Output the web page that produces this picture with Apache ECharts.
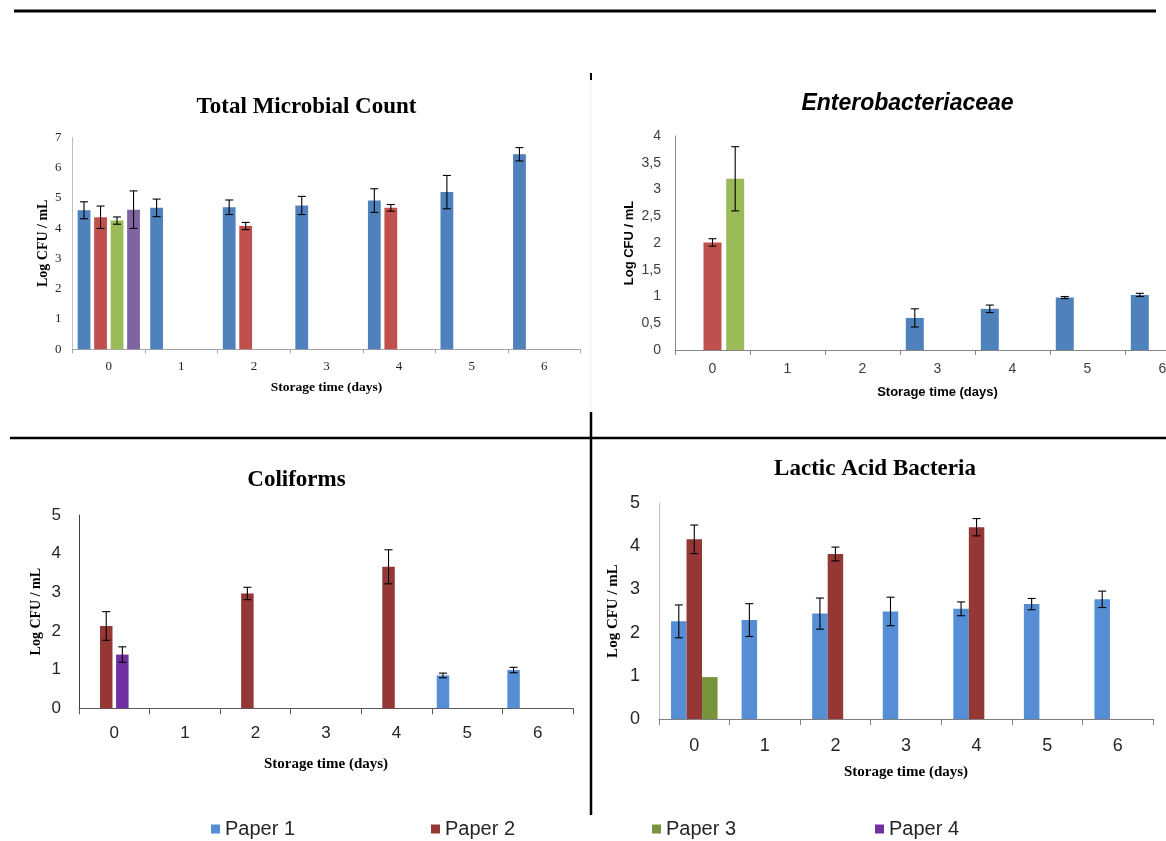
<!DOCTYPE html>
<html><head><meta charset="utf-8">
<script src="https://cdn.jsdelivr.net/npm/echarts@6/dist/echarts.min.js"></script>
<style>html,body{margin:0;padding:0;background:#fff}#c{width:1166px;height:841px}</style>
</head><body><div id="c"></div>
<script>
// ---------- DATA ----------
const days = ['0', '1', '2', '3', '4', '5', '6'];
const legendNames = ['Paper 1', 'Paper 2', 'Paper 3', 'Paper 4'];

// Total Microbial Count
const tmcPaper1 = [4.59, 4.67, 4.69, 4.75, 4.91, 5.19, 6.44];
const tmcPaper1Err = [0.28, 0.29, 0.24, 0.30, 0.39, 0.55, 0.22];
const tmcPaper2 = [4.36, null, 4.07, null, 4.67, null, null];
const tmcPaper2Err = [0.37, null, 0.12, null, 0.11, null, null];
const tmcPaper3 = [4.25, null, null, null, null, null, null];
const tmcPaper3Err = [0.12, null, null, null, null, null, null];
const tmcPaper4 = [4.61, null, null, null, null, null, null];
const tmcPaper4Err = [0.62, null, null, null, null, null, null];

// Enterobacteriaceae
const entPaper1 = [null, null, null, 0.60, 0.77, 0.98, 1.03];
const entPaper1Err = [null, null, null, 0.17, 0.07, 0.02, 0.03];
const entPaper2 = [2.01, null, null, null, null, null, null];
const entPaper2Err = [0.07, null, null, null, null, null, null];
const entPaper3 = [3.20, null, null, null, null, null, null];
const entPaper3Err = [0.60, null, null, null, null, null, null];

// Coliforms
const colPaper1 = [null, null, null, null, null, 0.85, 0.99];
const colPaper1Err = [null, null, null, null, null, 0.06, 0.07];
const colPaper2 = [2.13, null, 2.97, null, 3.66, null, null];
const colPaper2Err = [0.37, null, 0.16, null, 0.44, null, null];
const colPaper4 = [1.39, null, null, null, null, null, null];
const colPaper4Err = [0.20, null, null, null, null, null, null];
const colPaper3 = [null, null, null, null, null, null, null];

// Lactic Acid Bacteria
const labPaper1 = [2.26, 2.29, 2.44, 2.49, 2.55, 2.66, 2.77];
const labPaper1Err = [0.38, 0.38, 0.36, 0.33, 0.16, 0.13, 0.19];
const labPaper2 = [4.16, null, 3.82, null, 4.44, null, null];
const labPaper2Err = [0.33, null, 0.16, null, 0.20, null, null];
const labPaper3 = [0.97, null, null, null, null, null, null];
const labPaper3Err = [null, null, null, null, null, null, null];

// ---------- STYLE ----------
const SERIF = '"Liberation Serif", "Times New Roman", serif';
const SANS = '"Liberation Sans", Arial, sans-serif';
const legendColors = ['#558ED5', '#953735', '#77933C', '#7030A0'];
const legendLefts = [211, 431, 652, 875];

const panels = [
  {
    title: 'Total Microbial Count', titleFont: {family: SERIF, size: 23, style: 'normal'}, titleX: 306.5, titleY: 96,
    grid: {left: 72.5, top: 137.3, width: 508, height: 212},
    yMax: 7, yInterval: 1, tickFont: SERIF, tickSize: 13, tickColor: '#262626',
    xMargin: 11, yMargin: 11, axisColor: '#A6A6A6', yAxisColor: '#BFBFBF', tickLen: 4,
    nameFont: SERIF, yNameSize: 14, xNameSize: 13.5, yNameGap: 22, xNameGap: 31,
    barWidth: 12.8, gap: 3.7,
    series: [
      {name: 'Paper 1', data: tmcPaper1, err: tmcPaper1Err, color: '#4F81BD'},
      {name: 'Paper 2', data: tmcPaper2, err: tmcPaper2Err, color: '#C0504D'},
      {name: 'Paper 3', data: tmcPaper3, err: tmcPaper3Err, color: '#9BBB59'},
      {name: 'Paper 4', data: tmcPaper4, err: tmcPaper4Err, color: '#8064A2'}
    ]
  },
  {
    title: 'Enterobacteriaceae', titleFont: {family: SANS, size: 23, style: 'italic'}, titleX: 907.5, titleY: 92.5,
    grid: {left: 675, top: 136, width: 525, height: 214},
    yMax: 4, yInterval: 0.5, tickFont: SANS, tickSize: 14, tickColor: '#404040', comma: true,
    xMargin: 12, yMargin: 14, axisColor: '#868686', yAxisColor: '#868686', tickLen: 5,
    nameFont: SANS, yNameSize: 13, xNameSize: 13, yNameGap: 39, xNameGap: 36,
    barWidth: 18, gap: 4.7,
    series: [
      {name: 'Paper 1', data: entPaper1, err: entPaper1Err, color: '#4F81BD'},
      {name: 'Paper 2', data: entPaper2, err: entPaper2Err, color: '#C0504D'},
      {name: 'Paper 3', data: entPaper3, err: entPaper3Err, color: '#9BBB59'}
    ]
  },
  {
    title: 'Coliforms', titleFont: {family: SERIF, size: 23, style: 'normal'}, titleX: 296.5, titleY: 468.5,
    grid: {left: 79, top: 515, width: 494, height: 193.3},
    yMax: 5, yInterval: 1, tickFont: SANS, tickSize: 17, tickColor: '#262626',
    xMargin: 17, yMargin: 18, axisColor: '#595959', yAxisColor: '#404040', tickLen: 6,
    nameFont: SERIF, yNameSize: 14, xNameSize: 15, yNameGap: 36, xNameGap: 48,
    barWidth: 12.5, gap: 3.6,
    series: [
      {name: 'Paper 1', data: colPaper1, err: colPaper1Err, color: '#558ED5'},
      {name: 'Paper 2', data: colPaper2, err: colPaper2Err, color: '#953735'},
      {name: 'Paper 4', data: colPaper4, err: colPaper4Err, color: '#7030A0'},
      {name: 'Paper 3', data: colPaper3, err: null, color: '#77933C'}
    ]
  },
  {
    title: 'Lactic Acid Bacteria', titleFont: {family: SERIF, size: 23, style: 'normal'}, titleX: 875, titleY: 457.5,
    grid: {left: 659, top: 503, width: 494, height: 216},
    yMax: 5, yInterval: 1, tickFont: SANS, tickSize: 18, tickColor: '#262626',
    xMargin: 18, yMargin: 19, axisColor: '#7F7F7F', yAxisColor: '#BFBFBF', tickLen: 6,
    nameFont: SERIF, yNameSize: 15, xNameSize: 15, yNameGap: 38, xNameGap: 46,
    barWidth: 15.5, gap: 0,
    series: [
      {name: 'Paper 1', data: labPaper1, err: labPaper1Err, color: '#558ED5'},
      {name: 'Paper 2', data: labPaper2, err: labPaper2Err, color: '#953735'},
      {name: 'Paper 3', data: labPaper3, err: labPaper3Err, color: '#77933C'}
    ]
  }
];

// ---------- BUILD ----------
function errSeries(pi, slot, nSlots, bw, gap, vals, errs) {
  const data = [];
  vals.forEach((v, i) => { if (v != null && errs && errs[i] != null) data.push([i, v, errs[i]]); });
  return {
    type: 'custom', xAxisIndex: pi, yAxisIndex: pi, z: 5, silent: true, data,
    encode: {x: 0, y: 1},
    renderItem(params, api) {
      const i = api.value(0), v = api.value(1), e = api.value(2);
      const top = api.coord([i, v + e]), bot = api.coord([i, v - e]);
      const groupW = nSlots * bw + (nSlots - 1) * gap;
      const x = top[0] - groupW / 2 + bw / 2 + slot * (bw + gap);
      const cap = 4;
      const st = {stroke: '#000', lineWidth: 1.1};
      return {type: 'group', children: [
        {type: 'line', shape: {x1: x, y1: top[1], x2: x, y2: bot[1]}, style: st},
        {type: 'line', shape: {x1: x - cap, y1: top[1], x2: x + cap, y2: top[1]}, style: st},
        {type: 'line', shape: {x1: x - cap, y1: bot[1], x2: x + cap, y2: bot[1]}, style: st}
      ]};
    }
  };
}

const grids = [], xAxes = [], yAxes = [], titles = [], series = [];
panels.forEach((p, pi) => {
  grids.push(Object.assign({containLabel: false, outerBoundsMode: 'none'}, p.grid));
  titles.push({
    text: p.title, left: p.titleX, top: p.titleY, textAlign: 'center', padding: 0,
    textStyle: {fontFamily: p.titleFont.family, fontSize: p.titleFont.size, fontWeight: 'bold',
      fontStyle: p.titleFont.style, color: '#000'}
  });
  xAxes.push({
    type: 'category', gridIndex: pi, data: days, boundaryGap: true,
    axisLine: {show: true, lineStyle: {color: p.axisColor, width: 1}},
    axisTick: {show: true, length: p.tickLen, lineStyle: {color: p.axisColor}},
    axisLabel: {fontFamily: p.tickFont, fontSize: p.tickSize, color: p.tickColor, margin: p.xMargin, interval: 0},
    splitLine: {show: false},
    name: 'Storage time (days)', nameLocation: 'middle', nameGap: p.xNameGap,
    nameTextStyle: {fontFamily: p.nameFont, fontSize: p.xNameSize, fontWeight: 'bold', color: '#000'}
  });
  yAxes.push({
    type: 'value', gridIndex: pi, min: 0, max: p.yMax, interval: p.yInterval,
    axisLine: {show: true, lineStyle: {color: p.yAxisColor, width: 1}},
    axisTick: {show: false},
    splitLine: {show: false},
    axisLabel: {fontFamily: p.tickFont, fontSize: p.tickSize, color: p.tickColor, margin: p.yMargin,
      formatter: p.comma ? (v => String(v).replace('.', ',')) : (v => String(v))},
    name: 'Log CFU / mL', nameLocation: 'middle', nameGap: p.yNameGap,
    nameTextStyle: {fontFamily: p.nameFont, fontSize: p.yNameSize, fontWeight: 'bold', color: '#000'}
  });
  const n = p.series.length;
  p.series.forEach((s) => {
    series.push({
      type: 'bar', name: s.name, xAxisIndex: pi, yAxisIndex: pi, data: s.data,
      barWidth: p.barWidth, barGap: (p.gap / p.barWidth * 100).toFixed(1) + '%',
      itemStyle: {color: s.color}, emphasis: {disabled: true}
    });
  });
  p.series.forEach((s, si) => {
    if (s.err) series.push(errSeries(pi, si, n, p.barWidth, p.gap, s.data, s.err));
  });
});

const legends = legendNames.map((name, k) => ({
  data: [{name, itemStyle: {color: legendColors[k]}}],
  left: legendLefts[k], top: 819, padding: 0, icon: 'rect', itemWidth: 9, itemHeight: 9,
  selectedMode: false,
  textStyle: {fontFamily: SANS, fontSize: 20, color: '#262626'}
}));

const graphic = [
  {type: 'line', shape: {x1: 14, y1: 11, x2: 1156, y2: 11}, style: {stroke: '#000', lineWidth: 3}},
  {type: 'line', shape: {x1: 591, y1: 73, x2: 591, y2: 80}, style: {stroke: '#000', lineWidth: 2}},
  {type: 'line', shape: {x1: 591, y1: 80, x2: 591, y2: 412}, style: {stroke: '#EEEEEE', lineWidth: 1}},
  {type: 'line', shape: {x1: 591, y1: 412, x2: 591, y2: 815}, style: {stroke: '#000', lineWidth: 2.5}},
  {type: 'line', shape: {x1: 10, y1: 438, x2: 1166, y2: 438}, style: {stroke: '#000', lineWidth: 2.5}}
];

const chart = echarts.init(document.getElementById('c'), null, {renderer: 'canvas'});
chart.setOption({
  backgroundColor: '#fff',
  animation: false,
  title: titles,
  legend: legends,
  grid: grids,
  xAxis: xAxes,
  yAxis: yAxes,
  series,
  graphic
});
</script></body></html>
